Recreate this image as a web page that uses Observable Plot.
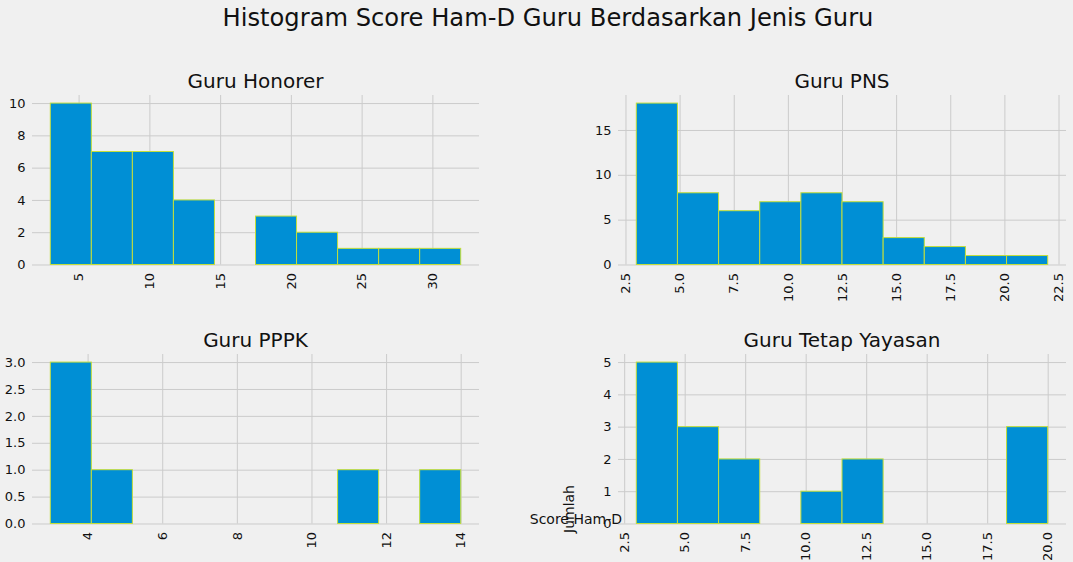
<!DOCTYPE html>
<html>
<head>
<meta charset="utf-8">
<script src="https://cdn.jsdelivr.net/npm/d3@7"></script>
<script src="https://cdn.jsdelivr.net/npm/@observablehq/plot@0.6"></script>
<style>
  html, body { margin: 0; padding: 0; background: #f0f0f0; }
  #fig { position: relative; width: 1073px; height: 562px; background: #f0f0f0; overflow: hidden; font-family: "DejaVu Sans", sans-serif; }
  .panel { position: absolute; }
  #overlay { position: absolute; left: 0; top: 0; }
</style>
</head>
<body>
<div id="fig"></div>
<script>
// ---- Data ----
const suptitle = "Histogram Score Ham-D Guru Berdasarkan Jenis Guru";
const panelTitles = ["Guru Honorer", "Guru PNS", "Guru PPPK", "Guru Tetap Yayasan"];

// bin range [min, max] of the scores and counts per bin (10 equal bins)
const honorerRange = [3, 32];
const honorerCounts = [10, 7, 7, 4, 0, 3, 2, 1, 1, 1];
const pnsRange = [3, 22];
const pnsCounts = [18, 8, 6, 7, 8, 7, 3, 2, 1, 1];
const pppkRange = [3, 14];
const pppkCounts = [3, 1, 0, 0, 0, 0, 0, 1, 0, 1];
const yayasanRange = [3, 20];
const yayasanCounts = [5, 3, 2, 0, 1, 2, 0, 0, 0, 3];

// tick values
const honorerXTicks = [5, 10, 15, 20, 25, 30];
const honorerYTicks = [0, 2, 4, 6, 8, 10];
const pnsXTicks = [2.5, 5, 7.5, 10, 12.5, 15, 17.5, 20, 22.5];
const pnsYTicks = [0, 5, 10, 15];
const pppkXTicks = [4, 6, 8, 10, 12, 14];
const pppkYTicks = [0, 0.5, 1, 1.5, 2, 2.5, 3];
const yayasanXTicks = [2.5, 5, 7.5, 10, 12.5, 15, 17.5, 20];
const yayasanYTicks = [0, 1, 2, 3, 4, 5];

const xLabel = "Score Ham-D";
const yLabel = "Jumlah";

// ---- Styling ----
const BAR = "#008fd5";
const EDGE = "#c3de3a";
const GRID = "#cbcbcb";
const TEXT = "#111111";
const FONT = "DejaVu Sans";

const f1 = d3.format(".1f");
const fint = d3.format("d");

function makeBins(range, counts) {
  const [lo, hi] = range;
  const w = (hi - lo) / counts.length;
  return counts.map((c, i) => ({x1: lo + i * w, x2: lo + (i + 1) * w, count: c}))
               .filter(d => d.count > 0);
}

function panel({range, counts, xTicks, yTicks, xFmt, yFmt, left, top, width, mLeft, mRight}) {
  const H = 216, mTop = 9, plotH = 169.5;
  const ymax = d3.max(counts) * 1.05;
  const chart = Plot.plot({
    width, height: H,
    marginLeft: mLeft, marginRight: mRight, marginTop: mTop, marginBottom: H - mTop - plotH,
    style: {background: "transparent", fontFamily: FONT, fontSize: "13px", color: TEXT, overflow: "visible"},
    x: {domain: range, inset: 18.3, label: null},
    y: {domain: [0, ymax], label: null},
    marks: [
      Plot.gridX(xTicks, {stroke: GRID, strokeOpacity: 1, strokeWidth: 1}),
      Plot.gridY(yTicks, {stroke: GRID, strokeOpacity: 1, strokeWidth: 1}),
      Plot.rectY(makeBins(range, counts), {x1: "x1", x2: "x2", y: "count", fill: BAR, stroke: EDGE, strokeWidth: 1, inset: 0}),
      Plot.axisX(xTicks, {tickFormat: xFmt, tickRotate: -90, tickSize: 0, tickPadding: 8, label: null, fill: TEXT}),
      Plot.axisY(yTicks, {tickFormat: yFmt, tickSize: 0, tickPadding: 7, label: null, fill: TEXT})
    ]
  });
  chart.classList.add("panel");
  chart.style.left = left + "px";
  chart.style.top = top + "px";
  return chart;
}

const fig = document.getElementById("fig");
const TOP1 = 85.5, TOP2 = 344.5;
fig.appendChild(panel({range: honorerRange, counts: honorerCounts, xTicks: honorerXTicks, yTicks: honorerYTicks,
  xFmt: fint, yFmt: fint, left: 0, top: TOP1, width: 490, mLeft: 32, mRight: 11}));
fig.appendChild(panel({range: pnsRange, counts: pnsCounts, xTicks: pnsXTicks, yTicks: pnsYTicks,
  xFmt: f1, yFmt: fint, left: 590, top: TOP1, width: 483, mLeft: 28, mRight: 7}));
fig.appendChild(panel({range: pppkRange, counts: pppkCounts, xTicks: pppkXTicks, yTicks: pppkYTicks,
  xFmt: fint, yFmt: f1, left: 0, top: TOP2, width: 490, mLeft: 32, mRight: 11}));
fig.appendChild(panel({range: yayasanRange, counts: yayasanCounts, xTicks: yayasanXTicks, yTicks: yayasanYTicks,
  xFmt: f1, yFmt: fint, left: 590, top: TOP2, width: 483, mLeft: 28, mRight: 7}));

// ---- Titles and stray labels (placed as in the reference, including its overlap) ----
const ns = "http://www.w3.org/2000/svg";
const ov = document.createElementNS(ns, "svg");
ov.setAttribute("id", "overlay");
ov.setAttribute("width", 1073);
ov.setAttribute("height", 562);
ov.style.pointerEvents = "none";
function addText(str, x, y, size, anchor, rotate) {
  const t = document.createElementNS(ns, "text");
  t.textContent = str;
  t.setAttribute("font-family", FONT);
  t.setAttribute("font-size", size);
  t.setAttribute("fill", TEXT);
  t.setAttribute("text-anchor", anchor);
  if (rotate) t.setAttribute("transform", `translate(${x},${y}) rotate(${rotate})`);
  else { t.setAttribute("x", x); t.setAttribute("y", y); }
  ov.appendChild(t);
}
addText(suptitle, 548, 26, 24.2, "middle");
addText(panelTitles[0], 255.5, 88, 20, "middle");
addText(panelTitles[1], 842, 88, 20, "middle");
addText(panelTitles[2], 255.5, 347, 20, "middle");
addText(panelTitles[3], 842, 347, 20, "middle");
addText(xLabel, 622, 524, 14, "end");
addText(yLabel, 574, 509, 14, "middle", -90);
fig.appendChild(ov);
</script>
</body>
</html>
